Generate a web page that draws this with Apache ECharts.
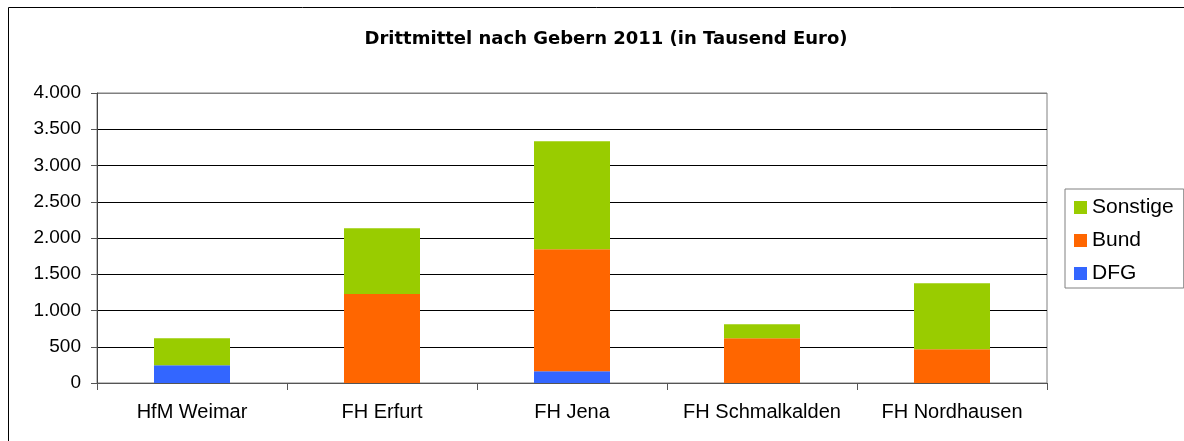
<!DOCTYPE html>
<html>
<head>
<meta charset="utf-8">
<script src="https://cdn.jsdelivr.net/npm/echarts@6/dist/echarts.min.js"></script>
<style>
html, body { margin: 0; padding: 0; background: #fff; }
#chart { width: 1184px; height: 441px; }
</style>
</head>
<body>
<div id="chart"></div>
<script>
// Hochschulen
var categories = ['HfM Weimar', 'FH Erfurt', 'FH Jena', 'FH Schmalkalden', 'FH Nordhausen'];
// Werte in Tausend Euro
var dfgValues = [245, 0, 161, 0, 0];
var bundValues = [0, 1228, 1683, 617, 465];
var sonstigeValues = [372, 906, 1490, 193, 910];
var yTicks = [0, 500, 1000, 1500, 2000, 2500, 3000, 3500, 4000];

var font = 'Liberation Sans, Arial, sans-serif';

function fmtDe(v) {
	return String(v).replace(/\B(?=(\d{3})+(?!\d))/g, '.');
}

// oberste Linie grau wie der Rahmen, sonst schwarz
var gridColors = yTicks.map(function(t, i) {
	return i == yTicks.length - 1 ? '#808080' : '#000';
});

var chart = echarts.init(document.getElementById('chart'));
chart.setOption({
	animation: false,
	title: {
		text: 'Drittmittel nach Gebern 2011 (in Tausend Euro)',
		left: 601,
		textAlign: 'center',
		top: 25,
		textStyle: {
			fontFamily: 'DejaVu Sans, sans-serif',
			fontSize: 18,
			fontWeight: 'bold',
			color: '#000'
		}
	},
	legend: {
		orient: 'vertical',
		left: 1065,
		top: 189,
		data: ['Sonstige', 'Bund', 'DFG'],
		itemWidth: 13,
		itemHeight: 13,
		itemGap: 12,
		padding: [8, 10, 4, 9],
		borderColor: '#808080',
		borderWidth: 1,
		icon: 'rect',
		textStyle: {
			fontFamily: font,
			fontSize: 21,
			color: '#000',
			lineHeight: 21
		}
	},
	grid: {
		left: 97,
		right: 137,
		top: 93,
		bottom: 58,
		show: true,
		borderColor: '#808080',
		borderWidth: 1
	},
	xAxis: {
		type: 'category',
		data: categories,
		boundaryGap: true,
		axisLine: { lineStyle: { color: '#555', width: 1 } },
		axisTick: { show: true, interval: 0, length: 7, lineStyle: { color: '#555' } },
		axisLabel: {
			interval: 0,
			hideOverlap: false,
			fontFamily: font,
			fontSize: 20,
			color: '#000',
			margin: 19
		}
	},
	yAxis: {
		type: 'value',
		min: yTicks[0],
		max: yTicks[yTicks.length - 1],
		interval: 500,
		axisLine: { show: true, lineStyle: { color: '#444', width: 1 } },
		axisTick: { show: true, length: 6, inside: false, lineStyle: { color: '#555' } },
		splitLine: { show: true, lineStyle: { color: gridColors, width: 1 } },
		axisLabel: {
			fontFamily: font,
			fontSize: 19,
			color: '#000',
			margin: 16,
			formatter: fmtDe
		}
	},
	graphic: [{
		type: 'rect',
		shape: { x: 8.5, y: 7.5, width: 1300, height: 600 },
		style: { fill: 'none', stroke: '#000', lineWidth: 1 },
		silent: true
	}],
	series: [{
		name: 'DFG',
		type: 'bar',
		stack: 'summe',
		barWidth: '40%',
		itemStyle: { color: '#3366FF' },
		data: dfgValues
	}, {
		name: 'Bund',
		type: 'bar',
		stack: 'summe',
		barWidth: '40%',
		itemStyle: { color: '#FF6600' },
		data: bundValues
	}, {
		name: 'Sonstige',
		type: 'bar',
		stack: 'summe',
		barWidth: '40%',
		itemStyle: { color: '#99CC00' },
		data: sonstigeValues
	}]
});
</script>
</body>
</html>
